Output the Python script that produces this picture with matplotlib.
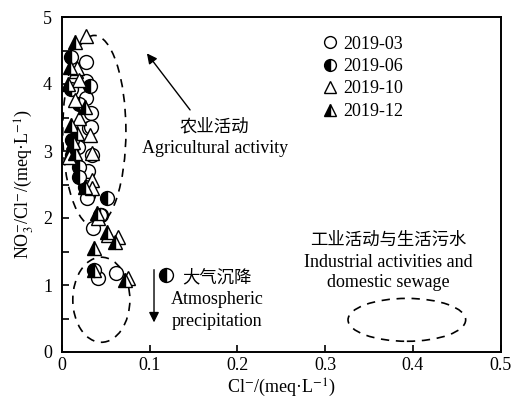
import matplotlib
matplotlib.use("Agg")
import matplotlib.pyplot as plt
from matplotlib.patches import Ellipse
from matplotlib.ticker import MultipleLocator

plt.rcParams['font.family'] = ['Liberation Serif', 'DejaVu Serif']
plt.rcParams['mathtext.fontset'] = 'stix'

# ---- data ----
x_0303 = [0.027, 0.028, 0.031, 0.033, 0.033, 0.034, 0.030, 0.029, 0.035, 0.045, 0.041, 0.062, 0.028, 0.030]
y_0303 = [4.33, 3.79, 3.34, 3.57, 3.36, 2.94, 2.34, 2.30, 1.85, 2.04, 1.10, 1.18, 4.05, 2.70]

x_0606 = [0.011, 0.010, 0.032, 0.018, 0.012, 0.012, 0.020, 0.020, 0.026, 0.052, 0.037, 0.119, 0.043, 0.020]
y_0606 = [4.40, 3.93, 3.97, 3.06, 2.94, 3.16, 2.76, 2.61, 2.46, 2.30, 1.22, 1.15, 2.04, 3.70]

x_1010 = [0.027, 0.016, 0.015, 0.020, 0.032, 0.034, 0.008, 0.034, 0.034, 0.041, 0.053, 0.064, 0.075, 0.017, 0.020]
y_1010 = [4.72, 4.20, 3.76, 3.50, 3.24, 2.97, 2.91, 2.57, 2.45, 2.00, 1.75, 1.72, 1.10, 4.24, 4.06]

x_1212 = [0.015, 0.009, 0.007, 0.010, 0.017, 0.015, 0.013, 0.026, 0.040, 0.037, 0.051, 0.060, 0.072, 0.037, 0.026]
y_1212 = [4.63, 4.25, 4.00, 3.39, 3.27, 2.97, 3.13, 2.46, 2.07, 1.55, 1.79, 1.64, 1.07, 1.22, 3.66]

series_labels = ['2019-03', '2019-06', '2019-10', '2019-12']

fig = plt.figure(figsize=(5.11, 4.00), dpi=100)
ax = fig.add_axes([0.121, 0.12, 0.859, 0.8375])

ms = 10
common = dict(linestyle='none', markersize=ms, markeredgecolor='black',
              markeredgewidth=1.0, color='black', markerfacecoloralt='white')
h1, = ax.plot(x_0303, y_0303, marker='o', markerfacecolor='white', label=series_labels[0], **common)
h2, = ax.plot(x_0606, y_0606, marker='o', fillstyle='left', label=series_labels[1], **common)
h3, = ax.plot(x_1010, y_1010, marker='^', markerfacecolor='white', label=series_labels[2], **common)
h4, = ax.plot(x_1212, y_1212, marker='^', fillstyle='left', label=series_labels[3], **common)

# dashed ellipses
for (cx, cy, w, h) in [(0.037, 3.30, 0.072, 2.85), (0.045, 0.78, 0.065, 1.27), (0.393, 0.48, 0.134, 0.64)]:
    ax.add_patch(Ellipse((cx, cy), w, h, fill=False, linestyle=(0, (5, 4)),
                         linewidth=1.2, edgecolor='black'))

# arrows
ax.annotate('', xy=(0.095, 4.49), xytext=(0.148, 3.58),
            arrowprops=dict(arrowstyle='-|>', color='black', lw=1.0, mutation_scale=15))
ax.annotate('', xy=(0.105, 0.40), xytext=(0.105, 1.27),
            arrowprops=dict(arrowstyle='-|>', color='black', lw=1.0, mutation_scale=15))

cjk = ['Noto Sans CJK SC', 'DejaVu Sans']
fs = 13
fsc = 12.5
ax.text(0.174, 3.36, '农业活动', family=cjk, fontsize=fsc, ha='center', va='center')
ax.text(0.174, 3.04, 'Agricultural activity', fontsize=fs, ha='center', va='center')
ax.text(0.177, 1.12, '大气沉降', family=cjk, fontsize=fsc, ha='center', va='center')
ax.text(0.177, 0.79, 'Atmospheric', fontsize=fs, ha='center', va='center')
ax.text(0.177, 0.46, 'precipitation', fontsize=fs, ha='center', va='center')
ax.text(0.372, 1.67, '工业活动与生活污水', family=cjk, fontsize=fsc, ha='center', va='center')
ax.text(0.372, 1.34, 'Industrial activities and', fontsize=fs, ha='center', va='center')
ax.text(0.372, 1.04, 'domestic sewage', fontsize=fs, ha='center', va='center')

ax.set_xlim(0, 0.5)
ax.set_ylim(0, 5)
ax.yaxis.set_major_locator(MultipleLocator(1))
ax.yaxis.set_minor_locator(MultipleLocator(0.5))
ax.set_xticks([0, 0.1, 0.2, 0.3, 0.4, 0.5])
ax.set_xticklabels(['0', '0.1', '0.2', '0.3', '0.4', '0.5'])
ax.tick_params(axis='both', which='both', direction='in', labelsize=13, width=1.2)
ax.tick_params(axis='both', which='major', length=5)
ax.tick_params(axis='y', which='minor', length=5)
ax.tick_params(axis='y', which='major', pad=7)
ax.tick_params(top=False, right=False)
for s in ax.spines.values():
    s.set_linewidth(1.4)

ax.set_xlabel(r'Cl$^{-}$/(meq·L$^{-1}$)', fontsize=13, labelpad=2)
ax.set_ylabel(r'NO$_3^{-}$/Cl$^{-}$/(meq·L$^{-1}$)', fontsize=13, labelpad=5)

leg = ax.legend(handles=[h1, h2, h3, h4], loc='upper left', bbox_to_anchor=(0.575, 0.966),
                frameon=False, fontsize=13, handlelength=0.9, handletextpad=0.3,
                labelspacing=0.3, markerscale=0.85, borderaxespad=0.0)

fig.savefig('out.png', dpi=100)
